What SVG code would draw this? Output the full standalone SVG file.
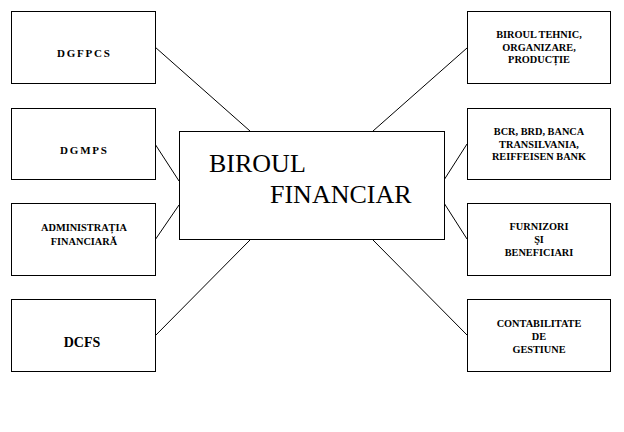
<svg xmlns="http://www.w3.org/2000/svg" width="624" height="432" viewBox="0 0 624 432">
<style>
.box{fill:#fff;stroke:#000;stroke-width:1}
.lbl{font-family:'Liberation Serif','Times New Roman','DejaVu Serif',serif;font-weight:bold;font-size:10.3px;fill:#000;text-anchor:middle}
.sp{letter-spacing:1.8px;font-size:11px}
.big{font-size:14px}
.ctr{font-family:'Liberation Serif','Times New Roman','DejaVu Serif',serif;font-size:26px;fill:#000}
#connectors line{stroke:#000;stroke-width:1}
</style>
<rect width="624" height="432" fill="#fff"/>
<g id="connectors">
<line x1="155" y1="47" x2="250" y2="131"/>
<line x1="155" y1="144" x2="179" y2="181"/>
<line x1="155" y1="240" x2="179" y2="205"/>
<line x1="155" y1="336" x2="250" y2="240"/>
<line x1="467" y1="48" x2="373" y2="131"/>
<line x1="467" y1="144" x2="444" y2="180"/>
<line x1="444" y1="203" x2="467" y2="239"/>
<line x1="373" y1="240" x2="467" y2="335"/>
</g>
<g id="center">
<rect class="box" x="179.5" y="131.5" width="265" height="108"/>
<text class="ctr" x="209" y="172">BIROUL</text>
<text class="ctr" x="270" y="203">FINANCIAR</text>
</g>
<g id="dgfpcs">
<rect class="box" x="11.5" y="11.5" width="144" height="72"/>
<text class="lbl sp" x="84.4" y="57">DGFPCS</text>
</g>
<g id="dgmps">
<rect class="box" x="11.5" y="108.5" width="144" height="71"/>
<text class="lbl sp" x="84.4" y="154">DGMPS</text>
</g>
<g id="administratia">
<rect class="box" x="11.5" y="203.5" width="144" height="72"/>
<text class="lbl" x="84" y="231">ADMINISTRAȚIA</text>
<text class="lbl" x="84" y="245">FINANCIARĂ</text>
</g>
<g id="dcfs">
<rect class="box" x="11.5" y="299.5" width="144" height="72"/>
<text class="lbl big" x="82" y="347">DCFS</text>
</g>
<g id="biroul-tehnic">
<rect class="box" x="467.5" y="11.5" width="143" height="72"/>
<text class="lbl" x="539" y="38">BIROUL TEHNIC,</text>
<text class="lbl" x="539" y="50.5">ORGANIZARE,</text>
<text class="lbl" x="539" y="63">PRODUCȚIE</text>
</g>
<g id="banci">
<rect class="box" x="467.5" y="108.5" width="143" height="71"/>
<text class="lbl" x="539" y="135">BCR, BRD, BANCA</text>
<text class="lbl" x="539" y="147.5">TRANSILVANIA,</text>
<text class="lbl" x="539" y="160">REIFFEISEN BANK</text>
</g>
<g id="furnizori">
<rect class="box" x="467.5" y="203.5" width="143" height="72"/>
<text class="lbl" x="539" y="230">FURNIZORI</text>
<text class="lbl" x="539" y="243">ŞI</text>
<text class="lbl" x="539" y="256">BENEFICIARI</text>
</g>
<g id="contabilitate">
<rect class="box" x="467.5" y="299.5" width="143" height="72"/>
<text class="lbl" x="539" y="327">CONTABILITATE</text>
<text class="lbl" x="539" y="340">DE</text>
<text class="lbl" x="539" y="353">GESTIUNE</text>
</g>
</svg>
